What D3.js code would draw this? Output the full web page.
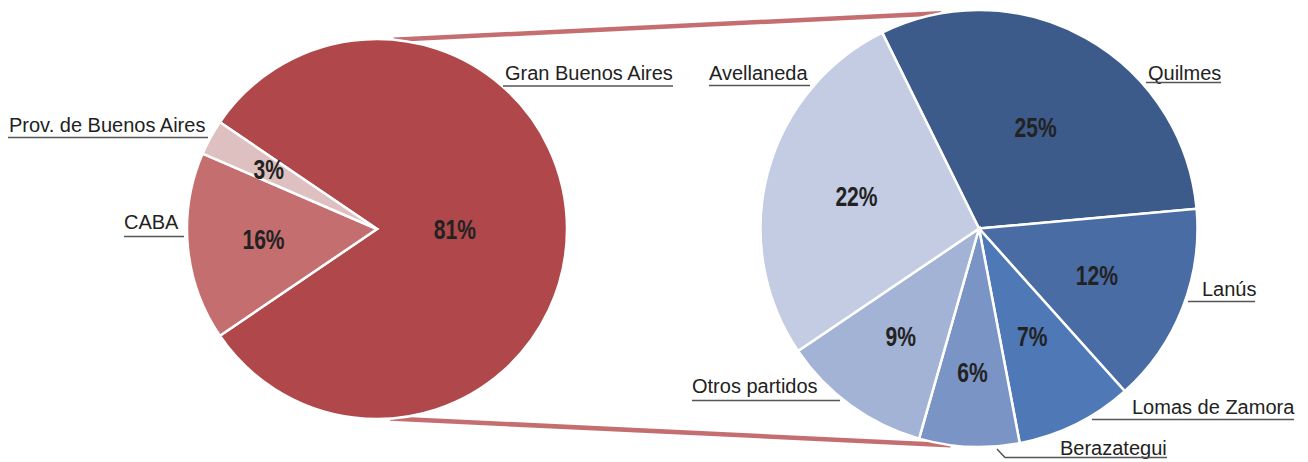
<!DOCTYPE html>
<html>
<head>
<meta charset="utf-8">
<script src="https://cdn.jsdelivr.net/npm/d3@7"></script>
<style>
  body { margin: 0; background: #fff; }
  svg { display: block; }
  .name { font-family: "Liberation Sans", Arial, sans-serif; font-size: 20px; fill: #222; }
  .pct { font-family: "Liberation Sans", Arial, sans-serif; font-size: 27px; font-weight: bold; fill: #222; }
</style>
</head>
<body>
<svg id="chart" width="1308" height="462"></svg>
<script>
// left pie: province split
var mainNames = ["Gran Buenos Aires", "CABA", "Prov. de Buenos Aires"];
var mainValues = [81, 16, 3];
var mainColors = ["#b0474a", "#c46e70", "#dfc0c1"];

// right pie: breakdown of Gran Buenos Aires
var subNames = ["Quilmes", "Lanús", "Lomas de Zamora", "Berazategui", "Otros partidos", "Avellaneda"];
var subValues = [25, 12, 7, 6, 9, 22];
var subColors = ["#3c5b8b", "#4a6ca4", "#4f78b6", "#7a94c5", "#a3b3d5", "#c3cce2"];

var W = 1308, H = 462;
var svg = d3.select("#chart");
var rad = Math.PI / 180;

var left = { cx: 377, cy: 229, r: 190, start: -55.8 };
var right = { cx: 979, cy: 228.5, r: 218.5, start: -26.3 };

// how far out the % labels sit, as a share of the radius
var mainPctPos = [0.41, 0.6, 0.65];
var subPctPos = [0.53, 0.58, 0.55, 0.66, 0.61, 0.58];

// name labels: text x, baseline y, underline from u1 to u2 at uy, optional kink point
var mainLabelPos = [
    { x: 505, y: 80, u1: 503, u2: 673, uy: 86 },
    { x: 124, y: 229, u1: 124, u2: 184, uy: 236.5 },
    { x: 9, y: 132, u1: 8, u2: 208, uy: 137.5 }
];
var subLabelPos = [
    { x: 1148, y: 80, u1: 1146, u2: 1221, uy: 82.5 },
    { x: 1202, y: 296, u1: 1188, u2: 1255, uy: 301.5 },
    { x: 1132, y: 414, u1: 1092, u2: 1294, uy: 419.5 },
    { x: 1060, y: 455, u1: 1005, u2: 1167, uy: 457.5, kx: 997, ky: 449 },
    { x: 692, y: 393, u1: 692, u2: 840, uy: 400.5 },
    { x: 709, y: 80, u1: 709, u2: 810, uy: 85.5 }
];

function pointOn(p, deg) {
    return [p.cx + p.r * Math.sin(deg * rad), p.cy - p.r * Math.cos(deg * rad)];
}

// connector lines between the two pies
var conn = svg.append("g").attr("class", "connectors");
var links = [[5, -10], [176, 187.5]];
links.forEach(function(l) {
    var a = pointOn(left, l[0]), b = pointOn(right, l[1]);
    conn.append("line")
        .attr("x1", a[0]).attr("y1", a[1])
        .attr("x2", b[0]).attr("y2", b[1])
        .attr("stroke", "#c46e70")
        .attr("stroke-width", 4.5);
});

function drawPie(p, names, values, colors, pctPos, labelPos) {
    var pie = d3.pie().sort(null)
        .startAngle(p.start * rad)
        .endAngle(p.start * rad + 2 * Math.PI);
    var arcs = pie(values);
    var arc = d3.arc().innerRadius(0).outerRadius(p.r);

    var g = svg.append("g").attr("transform", "translate(" + p.cx + "," + p.cy + ")");

    g.selectAll("path")
        .data(arcs)
        .enter().append("path")
            .attr("d", arc)
            .attr("fill", function(d, i) { return colors[i]; })
            .attr("stroke", "#fff")
            .attr("stroke-width", 2.5)
            .attr("stroke-linejoin", "miter");

    // no narrow font installed, so squeeze the bold one
    g.selectAll("text.pct")
        .data(arcs)
        .enter().append("text")
            .attr("class", "pct")
            .attr("text-anchor", "middle")
            .attr("dy", "0.36em")
            .attr("transform", function(d, i) {
                var mid = (d.startAngle + d.endAngle) / 2;
                var rr = p.r * pctPos[i];
                return "translate(" + (rr * Math.sin(mid)) + "," + (-rr * Math.cos(mid)) + ") scale(0.78,1)";
            })
            .text(function(d) {
                return Math.round(d.value / d3.sum(mainValues) * 100) + "%";
            });

    var lg = svg.append("g");
    labelPos.forEach(function(lp, i) {
        lg.append("text")
            .attr("class", "name")
            .attr("x", lp.x)
            .attr("y", lp.y)
            .text(names[i]);

        var pts = [];
        if (lp.kx !== undefined) pts.push([lp.kx, lp.ky]);
        pts.push([lp.u1, lp.uy]);
        pts.push([lp.u2, lp.uy]);
        lg.append("path")
            .attr("d", d3.line()(pts))
            .attr("fill", "none")
            .attr("stroke", "#555")
            .attr("stroke-width", 1.5);
    });
}

drawPie(left, mainNames, mainValues, mainColors, mainPctPos, mainLabelPos);
drawPie(right, subNames, subValues, subColors, subPctPos, subLabelPos);
</script>
</body>
</html>
